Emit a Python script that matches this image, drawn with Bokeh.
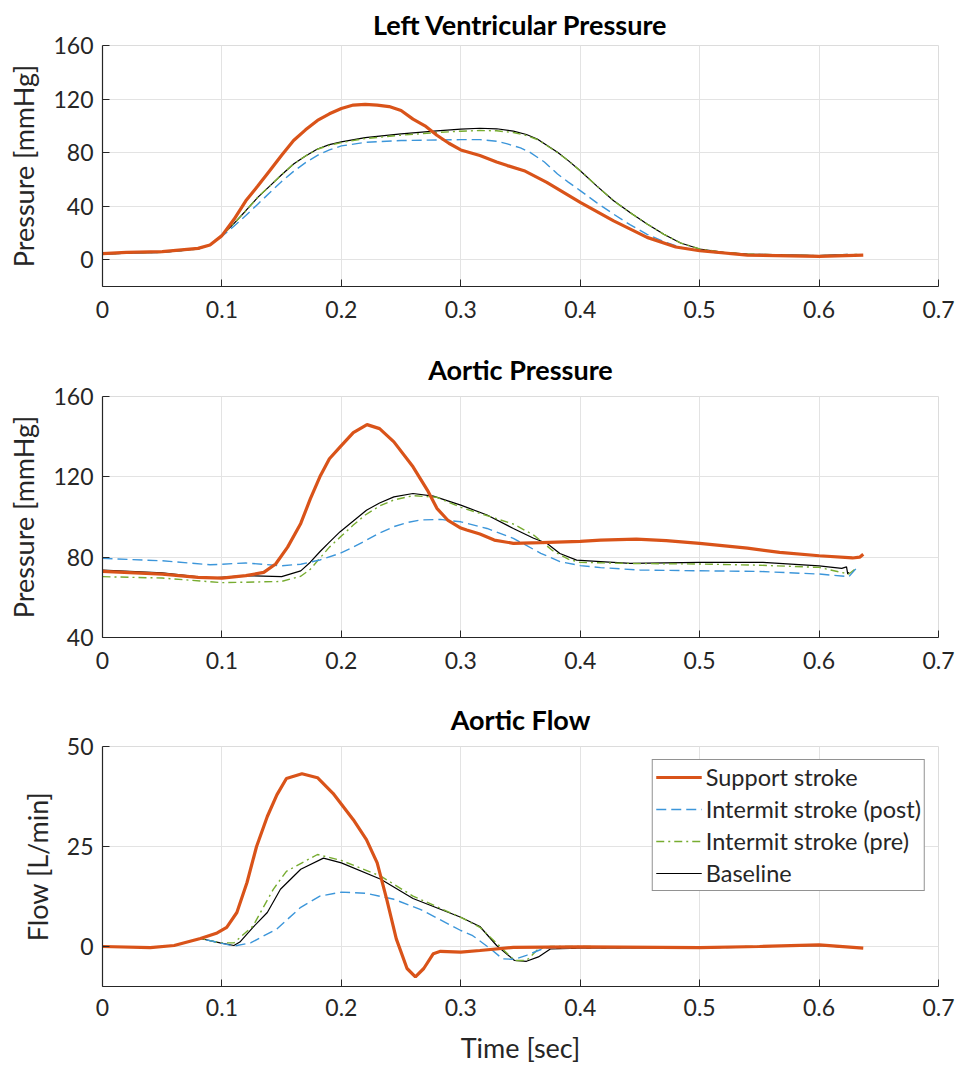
from bokeh.plotting import figure
from bokeh.layouts import column
from bokeh.models import FixedTicker, Range1d, Legend, LegendItem
from bokeh.embed import file_html
from bokeh.resources import INLINE

# ---------------- data ----------------
x_ticks = [0, 0.1, 0.2, 0.3, 0.4, 0.5, 0.6, 0.7]
x_tick_labels = ["0", "0.1", "0.2", "0.3", "0.4", "0.5", "0.6", "0.7"]
lvp_ticks = [0, 40, 80, 120, 160]
aop_ticks = [40, 80, 120, 160]
flow_ticks = [0, 25, 50]

series_names = ["Support stroke", "Intermit stroke (post)", "Intermit stroke (pre)", "Baseline"]
panel_titles = ["Left Ventricular Pressure", "Aortic Pressure", "Aortic Flow"]
x_label_text = "Time [sec]"

# Left ventricular pressure
lvp_support_t = [0, 0.02, 0.05, 0.08, 0.09, 0.1, 0.11, 0.12, 0.13, 0.14, 0.15, 0.16, 0.17, 0.18, 0.19,
                 0.2, 0.21, 0.22, 0.23, 0.24, 0.25, 0.26, 0.27, 0.275, 0.28, 0.29, 0.3, 0.316, 0.33,
                 0.339, 0.353, 0.372, 0.4, 0.428, 0.456, 0.48, 0.5, 0.54, 0.6, 0.637]
lvp_support_v = [4.5, 5.5, 6, 8.5, 11, 18, 30, 44, 55, 66.5, 78, 89, 97, 104, 109,
                 113, 115.5, 116, 115.5, 114.4, 111.4, 105, 100, 96.5, 93, 87, 82, 77.8, 73,
                 70.3, 66.5, 57.8, 42.9, 29, 16.7, 9.5, 6.7, 3.5, 2.5, 3.5]

lvp_base_t = [0, 0.02, 0.05, 0.08, 0.09, 0.1, 0.11, 0.12, 0.13, 0.14, 0.15, 0.16, 0.17, 0.18, 0.19,
              0.2, 0.22, 0.25, 0.28, 0.3, 0.316, 0.33, 0.344, 0.355, 0.364, 0.372, 0.381, 0.39,
              0.4, 0.414, 0.428, 0.442, 0.456, 0.47, 0.484, 0.5, 0.52, 0.54, 0.6, 0.624]
lvp_base_v = [4, 5, 5.5, 8, 11, 18, 27, 36.6, 46.6, 55, 63.5, 71.5, 77.5, 82.7, 86,
              88, 91.2, 94, 96.3, 97.5, 98.2, 97.8, 96, 93.5, 90.2, 85.5, 80.2, 74,
              66.5, 55, 44, 35, 26.7, 19, 12.5, 8, 5.5, 4.2, 3, 4]

lvp_pre_t = [0, 0.02, 0.05, 0.08, 0.09, 0.1, 0.11, 0.12, 0.13, 0.14, 0.15, 0.16, 0.17, 0.18, 0.19,
             0.2, 0.22, 0.25, 0.28, 0.3, 0.316, 0.33, 0.344, 0.355, 0.364, 0.372, 0.381, 0.39,
             0.4, 0.414, 0.428, 0.442, 0.456, 0.47, 0.484, 0.5, 0.52, 0.54, 0.6, 0.632]
lvp_pre_v = [4, 5, 5.5, 8, 11, 18, 27, 36.6, 46.6, 55, 63.5, 71.5, 77.5, 82.5, 85.5,
             87.5, 90.5, 93, 95, 96, 96.5, 96.3, 95, 92.8, 89.8, 85.3, 80, 74,
             66.5, 55, 44, 35, 26.7, 19, 12.5, 8, 5.5, 4.2, 3, 4]

lvp_post_t = [0, 0.02, 0.05, 0.08, 0.09, 0.1, 0.11, 0.12, 0.13, 0.14, 0.15, 0.16, 0.17, 0.18, 0.19,
              0.2, 0.22, 0.25, 0.3, 0.316, 0.33, 0.339, 0.35, 0.358, 0.37, 0.381, 0.39, 0.4,
              0.414, 0.428, 0.442, 0.456, 0.47, 0.484, 0.5, 0.52, 0.54, 0.6, 0.632]
lvp_post_v = [4, 5, 5.5, 8, 11, 17.5, 25, 33, 41.5, 50, 58.5, 66, 72.5, 78, 82,
              85, 87.7, 89, 89.7, 89.7, 88.5, 86.5, 83.5, 80.2, 73, 64, 58, 51.6,
              42.5, 34, 26, 19, 13.5, 9.2, 6.7, 4.8, 3.8, 3, 3.8]

# Aortic pressure
aop_support_t = [0, 0.05, 0.08, 0.1, 0.12, 0.135, 0.145, 0.155, 0.166, 0.174, 0.182, 0.19, 0.199,
                 0.21, 0.2215, 0.232, 0.244, 0.26, 0.272, 0.28, 0.289, 0.3, 0.305, 0.316, 0.328,
                 0.344, 0.367, 0.4, 0.417, 0.447, 0.472, 0.5, 0.54, 0.567, 0.6, 0.628, 0.634, 0.637]
aop_support_v = [72.9, 71.6, 69.9, 69.6, 70.8, 72.4, 76.6, 85, 96.8, 109, 120, 129, 134.9,
                 142, 146, 144, 137.4, 125, 113.4, 104.3, 98.5, 94.5, 93.5, 91.5, 88.5,
                 86.9, 87.2, 87.9, 88.5, 89, 88.2, 86.9, 84.5, 82.4, 80.7, 79.6, 80, 81.5]

aop_base_t = [0, 0.05, 0.09, 0.12, 0.15, 0.166, 0.174, 0.182, 0.19, 0.199, 0.21, 0.221, 0.232, 0.244,
              0.26, 0.277, 0.3, 0.322, 0.344, 0.361, 0.372, 0.383, 0.397, 0.417, 0.442, 0.5,
              0.553, 0.6, 0.619, 0.623, 0.624, 0.625]
aop_base_v = [73.6, 72.2, 69.6, 70.8, 70.3, 73.2, 77.5, 82.7, 87.5, 92.7, 98, 103.4, 107, 110,
              111.7, 110.4, 105.9, 101, 94.3, 89.4, 86.9, 81.8, 78.5, 77.8, 76.9, 77.4,
              77.4, 75.7, 74.4, 75.2, 71.6, 72.5]

aop_pre_t = [0, 0.05, 0.1, 0.15, 0.166, 0.174, 0.182, 0.19, 0.2, 0.21, 0.22, 0.232, 0.244, 0.26,
             0.28, 0.3, 0.316, 0.344, 0.361, 0.377, 0.39, 0.4, 0.45, 0.5, 0.55, 0.6, 0.625, 0.632]
aop_pre_v = [70.3, 69.6, 67.3, 67.9, 70.5, 74, 79.5, 85, 90.5, 96, 101, 105.5, 108.5, 110.6,
             109.8, 104.8, 101.8, 96.5, 91, 83.2, 79, 77.4, 76.8, 76.6, 76, 74.9, 71.6, 75]

aop_post_t = [0, 0.05, 0.09, 0.12, 0.15, 0.166, 0.182, 0.199, 0.21, 0.221, 0.232, 0.244, 0.255,
              0.266, 0.283, 0.3, 0.322, 0.344, 0.367, 0.383, 0.4, 0.417, 0.45, 0.5, 0.55, 0.6,
              0.625, 0.632]
aop_post_v = [79.4, 78.2, 76.2, 77.1, 75.7, 76.5, 78.6, 81.9, 85, 88.5, 92, 95.2, 97.2,
              98.5, 98.8, 97.6, 94.3, 89.4, 81.9, 77.8, 75.8, 74.8, 73.6, 73.2, 72.9, 71.6,
              70.3, 75]

# Aortic flow
flow_support_t = [0, 0.04, 0.06, 0.082, 0.096, 0.104, 0.1125, 0.121, 0.129, 0.138, 0.146, 0.154,
                  0.167, 0.18, 0.193, 0.21, 0.221, 0.23, 0.238, 0.246, 0.255, 0.262, 0.269, 0.277,
                  0.283, 0.3, 0.316, 0.344, 0.4, 0.5, 0.55, 0.6, 0.637]
flow_support_v = [0, -0.3, 0.25, 2, 3.4, 4.8, 8.5, 16, 25, 32.5, 37.9, 42, 43.2, 42.2, 38.3,
                  31.7, 26.7, 20.9, 11.8, 1.9, -5.5, -7.6, -5.5, -1.8, -1.2, -1.4, -1, -0.2,
                  -0.1, -0.3, 0, 0.4, -0.4]

flow_base_t = [0, 0.04, 0.06, 0.082, 0.0985, 0.11, 0.115, 0.126, 0.138, 0.149, 0.166, 0.185, 0.2,
               0.233, 0.26, 0.3, 0.316, 0.33, 0.345, 0.355, 0.365, 0.375, 0.4, 0.5, 0.6, 0.625]
flow_base_v = [0, -0.3, 0.25, 2, 0.9, 0.25, 1.1, 4.8, 8.5, 14.3, 19.3, 22.1, 20.9,
               16.8, 12, 7.3, 5, 0.25, -3.5, -3.7, -2.6, -0.6, -0.4, -0.3, 0.25, -0.2]

flow_pre_t = [0, 0.04, 0.06, 0.082, 0.0985, 0.11, 0.126, 0.143, 0.154, 0.18, 0.2, 0.233, 0.26,
              0.3, 0.316, 0.335, 0.345, 0.355, 0.365, 0.375, 0.4, 0.5, 0.6, 0.632]
flow_pre_v = [0, -0.3, 0.25, 2, 0.9, 0.9, 5.1, 14.3, 18.8, 23, 21.5, 17.6, 12.6,
              7.3, 4.8, -0.6, -3.5, -3.5, -0.6, 0, 0, -0.2, 0.3, -0.2]

flow_post_t = [0, 0.04, 0.06, 0.082, 0.0985, 0.11, 0.124, 0.146, 0.166, 0.182, 0.2, 0.221, 0.244,
               0.266, 0.3, 0.31, 0.325, 0.335, 0.345, 0.355, 0.37, 0.4, 0.5, 0.6, 0.632]
flow_post_v = [0, -0.3, 0.25, 2, 0.9, 0.1, 0.9, 4.4, 9.8, 12.6, 13.6, 13.3, 11.8,
               9.3, 4, 2.7, -0.6, -3.1, -3.2, -2.2, -0.4, -0.3, -0.4, 0.3, -0.2]

# ---------------- styling ----------------
FONT = "Lato"
AX_COLOR = "#262626"
C_SUPPORT = "#D95319"
C_POST = "#3C96DA"
C_PRE = "#77AC30"
C_BASE = "#000000"

styles = [
    dict(line_color=C_SUPPORT, line_width=3.2, line_dash="solid"),
    dict(line_color=C_POST, line_width=1.4, line_dash="10 5"),
    dict(line_color=C_PRE, line_width=1.4, line_dash="8 4 2 4"),
    dict(line_color=C_BASE, line_width=1.2, line_dash="solid"),
]


def make_panel(title, ylabel, yr, yticks, data, height, top, bottom, title_standoff,
               tick_standoff=14, xlabel=None):
    p = figure(width=955, height=height, output_backend="svg", toolbar_location=None,
               x_range=Range1d(0, 0.7), y_range=Range1d(*yr),
               min_border_left=102, min_border_right=17, min_border_top=top, min_border_bottom=bottom)
    p.title.text = title
    p.title.align = "center"
    p.title.text_font = FONT
    p.title.text_font_size = "27px"
    p.title.text_font_style = "bold"
    p.title.text_color = "#000000"
    p.title.standoff = title_standoff
    p.outline_line_color = "#dcdcdc"
    p.outline_line_width = 1
    p.background_fill_color = "white"
    for ax in (p.xaxis[0], p.yaxis[0]):
        ax.axis_line_color = AX_COLOR
        ax.axis_line_width = 1.2
        ax.major_tick_line_color = AX_COLOR
        ax.major_tick_in = 7
        ax.major_tick_out = 0
        ax.minor_tick_line_color = None
        ax.major_label_text_font = FONT
        ax.major_label_text_font_size = "23px"
        ax.major_label_text_color = AX_COLOR
        ax.axis_label_text_font = FONT
        ax.axis_label_text_font_size = "27px"
        ax.axis_label_text_font_style = "normal"
        ax.axis_label_text_color = AX_COLOR
    p.xaxis.ticker = FixedTicker(ticks=x_ticks)
    p.xaxis.major_label_overrides = {t: l for t, l in zip(x_ticks, x_tick_labels)}
    p.xaxis.major_label_standoff = tick_standoff
    p.yaxis.ticker = FixedTicker(ticks=yticks)
    p.yaxis.major_label_standoff = 9
    p.yaxis.axis_label = ylabel
    p.yaxis.axis_label_standoff = 10
    if xlabel:
        p.xaxis.axis_label = xlabel
        p.xaxis.axis_label_standoff = 12
    p.grid.grid_line_color = "#e3e3e3"
    p.grid.grid_line_width = 1
    p.xgrid.ticker = FixedTicker(ticks=x_ticks)
    p.ygrid.ticker = FixedTicker(ticks=yticks)
    # draw order: baseline, pre, post, support (support on top)
    rs = {}
    for i in [3, 2, 1, 0]:
        t, v = data[i]
        rs[i] = p.line(t, v, **styles[i])
    return p, [rs[i] for i in range(4)]


p1, _ = make_panel(panel_titles[0], "Pressure [mmHg]", (-20, 160), lvp_ticks,
                   [(lvp_support_t, lvp_support_v), (lvp_post_t, lvp_post_v),
                    (lvp_pre_t, lvp_pre_v), (lvp_base_t, lvp_base_v)],
                   height=339, top=45, bottom=53, title_standoff=10)
p2, _ = make_panel(panel_titles[1], "Pressure [mmHg]", (40, 160), aop_ticks,
                   [(aop_support_t, aop_support_v), (aop_post_t, aop_post_v),
                    (aop_pre_t, aop_pre_v), (aop_base_t, aop_base_v)],
                   height=350, top=57, bottom=52, title_standoff=21)
p3, r3 = make_panel(panel_titles[2], "Flow [L/min]", (-10, 50), flow_ticks,
                    [(flow_support_t, flow_support_v), (flow_post_t, flow_post_v),
                     (flow_pre_t, flow_pre_v), (flow_base_t, flow_base_v)],
                    height=377, top=57, bottom=79, title_standoff=21,
                    tick_standoff=12, xlabel=x_label_text)

legend = Legend(items=[LegendItem(label=n, renderers=[r]) for n, r in zip(series_names, r3)],
                location="top_right")
legend.margin = 13
legend.padding = 3
legend.spacing = 4
legend.label_height = 26
legend.glyph_height = 26
legend.glyph_width = 46
legend.label_standoff = 4
legend.label_text_font = FONT
legend.label_text_font_size = "23.5px"
legend.label_text_color = AX_COLOR
legend.border_line_color = "#262626"
legend.border_line_width = 1
legend.background_fill_color = "white"
legend.background_fill_alpha = 1
p3.add_layout(legend)

layout = column(p1, p2, p3, spacing=0)
open("out.html", "w").write(file_html(layout, INLINE))
